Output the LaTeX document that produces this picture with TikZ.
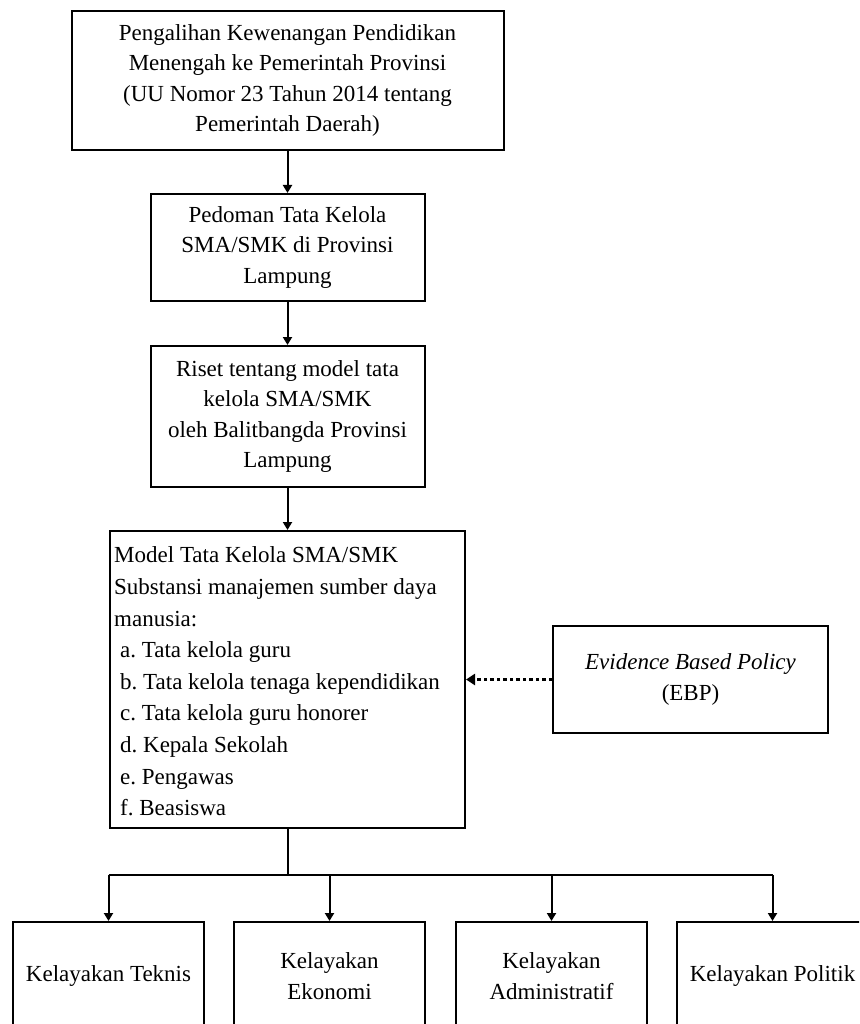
\documentclass[tikz,border=0pt]{standalone}
\usepackage{fontspec}
\setmainfont{Liberation Serif}
\usetikzlibrary{arrows.meta}
\frenchspacing
\begin{document}
\begin{tikzpicture}[x=1pt,y=-1pt,
  txt/.style={font=\fontsize{23}{30.5}\selectfont},
  box/.style={draw, line width=2pt, inner sep=0pt, align=center, txt},
  arr/.style={line width=2pt, -{Triangle[width=9pt,length=8pt]}},
  dotarr/.style={line width=2.8pt, dash pattern=on 3.5pt off 3pt, -{Triangle[width=11pt,length=9pt]}},
  ]
\useasboundingbox (0,0) rectangle (859,1024);
\clip (0,0) rectangle (859,1024);
\node[box, minimum width=432pt, minimum height=139pt] (b1) at (287.5,80.5)
  {Pengalihan Kewenangan Pendidikan\\Menengah ke Pemerintah Provinsi\\(UU Nomor 23 Tahun 2014 tentang\\Pemerintah Daerah)};
\node[box, minimum width=274pt, minimum height=107pt] (b2) at (287.5,247.5)
  {Pedoman Tata Kelola\\SMA/SMK di Provinsi\\Lampung};
\node[box, minimum width=274pt, minimum height=141pt] (b3) at (287.5,416.5)
  {Riset tentang model tata\\kelola SMA/SMK\\oleh Balitbangda Provinsi\\Lampung};
\node[box, minimum width=355pt, minimum height=297pt] (m) at (287.5,679.5) {};
\node[font=\fontsize{23}{31.6}\selectfont, align=left, anchor=west, inner sep=0pt] (mtext) at ([xshift=5pt,yshift=-2pt]m.west)
  {Model Tata Kelola SMA/SMK\\Substansi manajemen sumber daya\\manusia:\\
   \hspace*{6pt}a. Tata kelola guru\\
   \hspace*{6pt}b. Tata kelola tenaga kependidikan\\
   \hspace*{6pt}c. Tata kelola guru honorer\\
   \hspace*{6pt}d. Kepala Sekolah\\
   \hspace*{6pt}e. Pengawas\\
   \hspace*{6pt}f. Beasiswa};
\node[box, minimum width=275pt, minimum height=107pt] (ebp) at (690.5,679.5)
  {\textit{Evidence Based Policy}\\(EBP)};
\node[box, minimum width=191pt, minimum height=108pt] (k1) at (108.5,976) {Kelayakan Teknis};
\node[box, minimum width=191pt, minimum height=108pt] (k2) at (329.5,976) {Kelayakan\\Ekonomi};
\node[box, minimum width=191pt, minimum height=108pt] (k3) at (551.5,976) {Kelayakan\\Administratif};
\node[box, minimum width=191pt, minimum height=108pt] (k4) at (772.5,976) {Kelayakan Politik};

\draw[arr] (b1) -- (b2);
\draw[arr] (b2) -- (b3);
\draw[arr] (b3) -- (m);
\draw[dotarr] (ebp) -- (m);
\draw[line width=2pt] (m.south) -- ++(0,46) coordinate (hub);
\draw[line width=2pt] (hub -| k1.north) -- (hub -| k4.north);
\foreach \k in {k1,k2,k3,k4} \draw[arr] (hub -| \k.north) -- (\k.north);
\end{tikzpicture}
\end{document}
